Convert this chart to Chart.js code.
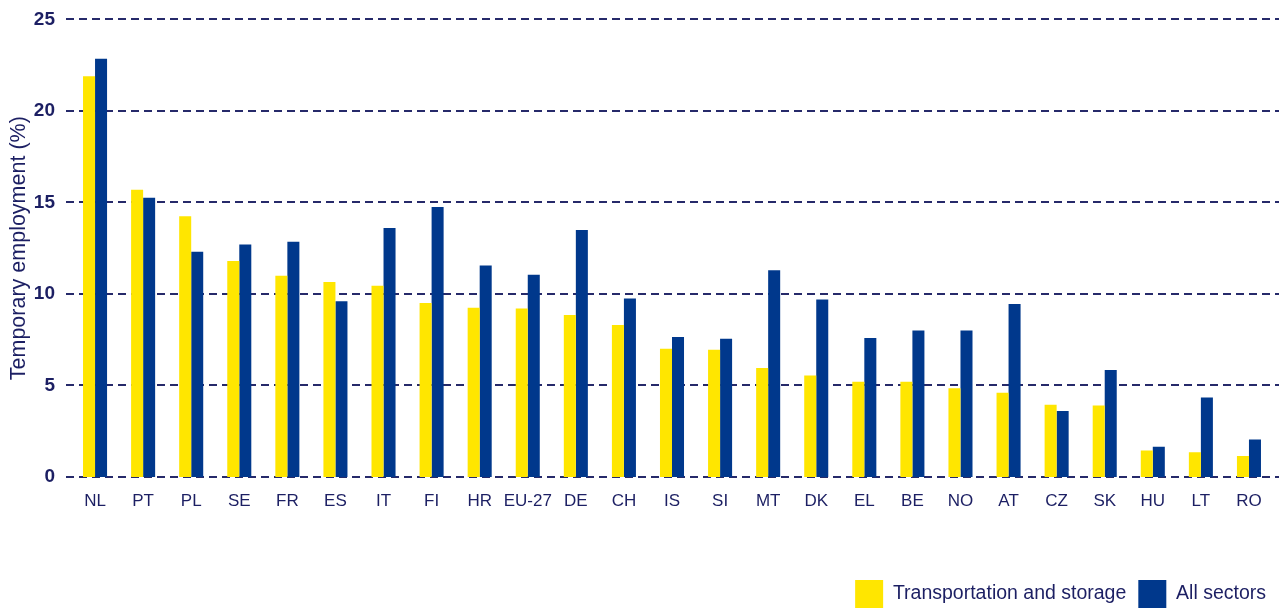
<!DOCTYPE html>
<html>
<head>
<meta charset="utf-8">
<title>Temporary employment</title>
<script src="https://cdn.jsdelivr.net/npm/chart.js@4.4.0/dist/chart.umd.min.js"></script>
<style>
  html, body { margin: 0; padding: 0; background: #fff; overflow: hidden; }
  #wrap { width: 1279px; height: 618px; }
</style>
</head>
<body>
<div id="wrap"><canvas id="myChart" width="1279" height="618"></canvas></div>
<script>
// temporary employment share (%), by country
const countries = ['NL', 'PT', 'PL', 'SE', 'FR', 'ES', 'IT', 'FI', 'HR', 'EU-27', 'DE', 'CH', 'IS',
  'SI', 'MT', 'DK', 'EL', 'BE', 'NO', 'AT', 'CZ', 'SK', 'HU', 'LT', 'RO'];
const transportStorage = [21.9, 15.7, 14.25, 11.8, 11.0, 10.65, 10.45, 9.5, 9.25, 9.2, 8.85, 8.3, 7.0,
  6.95, 5.95, 5.55, 5.2, 5.2, 4.85, 4.6, 3.95, 3.9, 1.45, 1.35, 1.15];
const allSectors = [22.85, 15.25, 12.3, 12.7, 12.85, 9.6, 13.6, 14.75, 11.55, 11.05, 13.5, 9.75, 7.65,
  7.55, 11.3, 9.7, 7.6, 8.0, 8.0, 9.45, 3.6, 5.85, 1.65, 4.35, 2.05];
const yTicks = [0, 5, 10, 15, 20, 25];

const navy = '#1c1f63';
const yellow = '#FFE600';
const blue = '#00388C';
const fontFamily = '"Liberation Sans", Arial, sans-serif';

// dashed horizontal lines, running out past the plot area on both sides
const dashedGrid = {
  id: 'dashedGrid',
  beforeDatasetsDraw(chart) {
    const ctx = chart.ctx;
    const y = chart.scales.y;
    ctx.save();
    ctx.strokeStyle = '#262a6a';
    ctx.lineWidth = 2;
    ctx.setLineDash([8, 5]);
    yTicks.forEach(v => {
      const py = Math.round(y.getPixelForValue(v));
      ctx.beginPath();
      ctx.moveTo(66, py);
      ctx.lineTo(chart.width, py);
      ctx.stroke();
    });
    ctx.restore();
  }
};

const ctx = document.getElementById('myChart');
new Chart(ctx, {
  type: 'bar',
  data: {
    labels: countries,
    datasets: [{
      label: 'Transportation and storage',
      data: transportStorage,
      backgroundColor: yellow,
      borderWidth: 0
    }, {
      label: 'All sectors',
      data: allSectors,
      backgroundColor: blue,
      borderWidth: 0
    }]
  },
  options: {
    responsive: false,
    animation: false,
    devicePixelRatio: 1,
    layout: {
      padding: { top: 11, right: 1, left: 0, bottom: 0 }
    },
    datasets: {
      bar: { categoryPercentage: 0.5, barPercentage: 1.0 }
    },
    scales: {
      x: {
        grid: { display: false },
        border: { display: false },
        ticks: {
          color: navy,
          padding: 6,
          maxRotation: 0,
          autoSkip: false,
          font: { family: fontFamily, size: 17 }
        },
        afterFit(scale) { scale.height = 91; }
      },
      y: {
        min: 0,
        max: 25,
        grid: { display: false },
        border: { display: false },
        afterBuildTicks(scale) {
          scale.ticks = yTicks.map(v => ({ value: v }));
        },
        ticks: {
          color: navy,
          padding: 8,
          font: { family: fontFamily, size: 19, weight: 'bold' }
        },
        title: {
          display: true,
          text: 'Temporary employment (%)',
          color: navy,
          padding: { top: 6, bottom: 0 },
          font: { family: fontFamily, size: 21.5 }
        },
        afterFit(scale) { scale.width = 71; }
      },
      // empty strip on the right so the plot stops short of the legend's edge
      edge: {
        position: 'right',
        display: true,
        grid: { display: false },
        border: { display: false },
        ticks: { display: false },
        afterFit(scale) { scale.width = 5; }
      }
    },
    plugins: {
      legend: {
        position: 'bottom',
        align: 'end',
        labels: {
          boxWidth: 28,
          boxHeight: 28,
          padding: 12,
          color: navy,
          font: { family: fontFamily, size: 19.5 }
        }
      },
      tooltip: { enabled: false }
    }
  },
  plugins: [dashedGrid]
});
</script>
</body>
</html>
